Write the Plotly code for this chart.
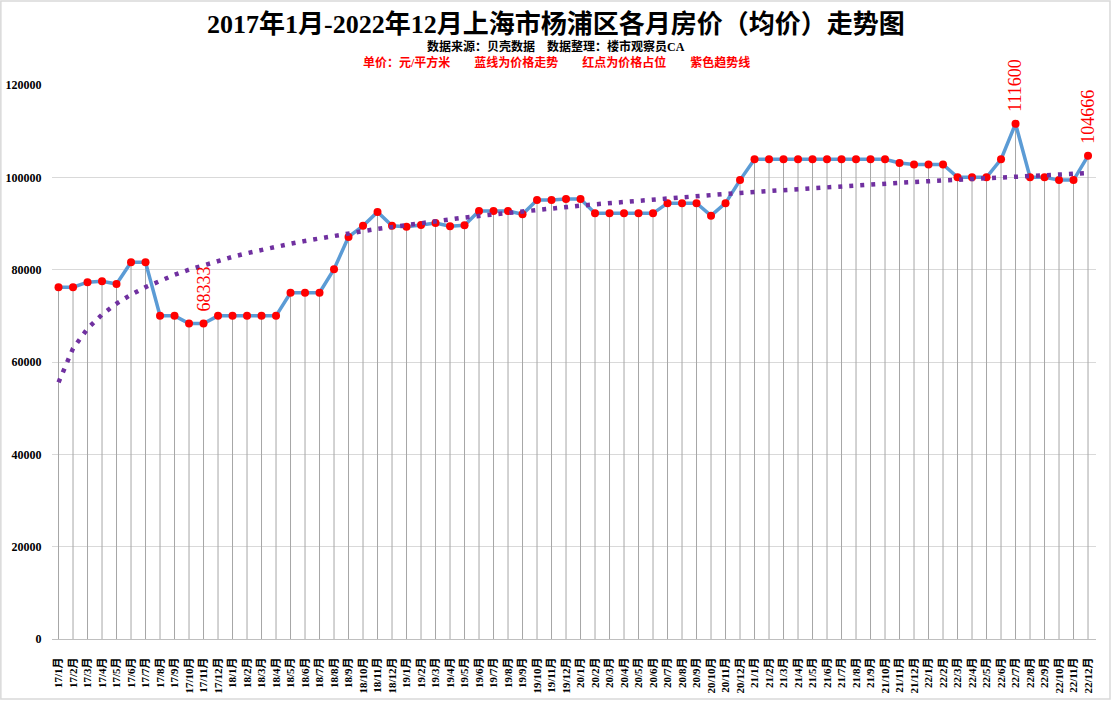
import numpy as np
import plotly.graph_objects as go

months = [f"{y}/{m}月" for y in range(17, 23) for m in range(1, 13)]

prices_2017 = [76200, 76200, 77300, 77500, 76900, 81600, 81600, 70000, 70000, 68333, 68333, 70000]
prices_2018 = [70000, 70000, 70000, 70000, 75000, 75000, 75000, 80100, 87100, 89500, 92500, 89500]
prices_2019 = [89300, 89700, 90100, 89400, 89600, 92700, 92700, 92700, 92000, 95100, 95100, 95300]
prices_2020 = [95300, 92200, 92200, 92200, 92200, 92200, 94400, 94400, 94400, 91700, 94400, 99400]
prices_2021 = [103900, 103900, 103900, 103900, 103900, 103900, 103900, 103900, 103900, 103900, 103100, 102800]
prices_2022 = [102800, 102800, 100000, 100000, 100000, 103900, 111600, 100000, 100000, 99400, 99400, 104666]
prices = prices_2017 + prices_2018 + prices_2019 + prices_2020 + prices_2021 + prices_2022

labelled_months = ["17/11月", "22/7月", "22/12月"]
labelled_texts = ["68333", "111600", "104666"]

y_ticks = [0, 20000, 40000, 60000, 80000, 100000, 120000]

idx = np.arange(len(months))
# logarithmic trendline (as Excel does), fitted to the data
b, a = np.polyfit(np.log(idx + 1), prices, 1)
trend = a + b * np.log(idx + 1)

serif = "Liberation Serif, Noto Sans CJK SC"

fig = go.Figure()

# drop lines
fig.add_trace(go.Scatter(
    x=idx, y=prices, mode="markers",
    marker=dict(size=0.1, color="rgba(0,0,0,0)"),
    error_y=dict(type="data", symmetric=False, array=[0] * len(prices), arrayminus=prices,
                 width=0, thickness=1, color="#a6a6a6"),
    hoverinfo="skip", showlegend=False))

fig.add_trace(go.Scatter(
    x=idx, y=prices, mode="lines+markers",
    line=dict(color="#5B9BD5", width=3.5),
    marker=dict(color="#FF0000", size=8),
    showlegend=False))

fig.add_trace(go.Scatter(
    x=idx, y=trend, mode="lines",
    line=dict(color="#7030A0", width=4.5, dash="4px,7px"),
    showlegend=False))

for m, t in zip(labelled_months, labelled_texts):
    i = months.index(m)
    fig.add_annotation(x=i, y=prices[i], text=t, textangle=-90, showarrow=False,
                       xanchor="center", yanchor="bottom", yshift=10,
                       font=dict(family="Liberation Serif", size=18, color="#FF0000"))

fig.add_annotation(x=0.483, y=1.110, xref="paper", yref="paper", showarrow=False,
                   xanchor="center", yanchor="middle",
                   text="<b>2017年1月-2022年12月上海市杨浦区各月房价（均价）走势图</b>",
                   font=dict(family=serif, size=26, color="#000000"))
fig.add_annotation(x=0.483, y=1.0686, xref="paper", yref="paper", showarrow=False,
                   xanchor="center", yanchor="middle",
                   text="<b>数据来源：贝壳数据　数据整理：楼市观察员CA</b>",
                   font=dict(family=serif, size=12, color="#000000"))
fig.add_annotation(x=0.483, y=1.0415, xref="paper", yref="paper", showarrow=False,
                   xanchor="center", yanchor="middle",
                   text="<b>单价：元/平方米　　蓝线为价格走势　　红点为价格占位　　紫色趋势线</b>",
                   font=dict(family=serif, size=12, color="#FF0000"))

# chart-area frame
fig.add_shape(type="rect", xref="paper", yref="paper",
              x0=-0.049, x1=1.0134, y0=-0.1083, y1=1.1516,
              line=dict(color="#d9d9d9", width=1.5), layer="below")

fig.update_layout(
    width=1112, height=701,
    margin=dict(l=52, r=16, t=85, b=62),
    paper_bgcolor="white", plot_bgcolor="white",
    showlegend=False,
    xaxis=dict(
        range=[-0.45, 71.55], automargin=False,
        tickmode="array", tickvals=idx, ticktext=[f"<b>{m}</b>" for m in months],
        tickangle=-90, showgrid=False, zeroline=False,
        showline=True, linecolor="#bfbfbf", linewidth=1,
        ticks="outside", ticklen=13, tickcolor="rgba(0,0,0,0)",
        tickfont=dict(family=serif, size=11, color="#000000"),
    ),
    yaxis=dict(
        range=[0, 120000], automargin=False,
        tickvals=y_ticks, ticktext=[f"<b>{v}</b>" for v in y_ticks],
        showgrid=True, gridcolor="#d9d9d9", gridwidth=1,
        zeroline=False, showline=False,
        ticks="outside", ticklen=7, tickcolor="rgba(0,0,0,0)",
        tickfont=dict(family="Liberation Serif", size=12, color="#000000"),
    ),
)

fig.write_html("out.html")
